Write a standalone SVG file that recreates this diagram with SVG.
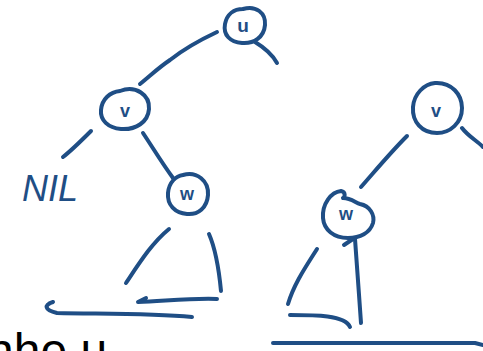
<svg xmlns="http://www.w3.org/2000/svg" width="483" height="351" viewBox="0 0 483 351">
<style>
.s{fill:none;stroke:#1f4e85;stroke-width:4;stroke-linecap:round;stroke-linejoin:round}
.l{fill:#1f4e85;font-family:"Liberation Sans",Arial,sans-serif;font-weight:bold;text-anchor:middle}
.big{fill:#000;font-family:"Liberation Sans",Arial,sans-serif;font-size:48px}
</style>
<rect width="483" height="351" fill="#fff"/>
<g id="node-u">
<path class="s" d="M243,9 C256,5 266,13 265,25 C264,37 254,44 242,43 C230,42 223,35 225,24 C227,14 234,9 243,9"/>
<text class="l" x="243" y="32" font-size="19">u</text>
</g>
<g id="node-v">
<path class="s" d="M120,91 C136,85 150,95 149,109 C148,122 136,130 121,129 C108,128 100,120 101,110 C102,99 110,92 120,91"/>
<text class="l" x="125" y="117" font-size="18">v</text>
</g>
<g id="node-nil">
<text x="22" y="201" font-family="'Liberation Sans',Arial,sans-serif" font-size="36" font-style="italic" fill="#1f4e85" textLength="56">NIL</text>
</g>
<g id="node-w1">
<path class="s" d="M183,175 C197,171 209,181 208,195 C207,208 198,215 187,214 C175,213 167,205 168,193 C169,182 176,176 183,175"/>
<text class="l" x="187" y="200" font-size="18">w</text>
</g>
<g id="node-v2">
<path class="s" d="M435,83 C452,82 462,95 462,108 C462,123 450,133 437,133 C422,133 412,122 413,107 C414,94 424,84 435,83"/>
<text class="l" x="436" y="117" font-size="18">v</text>
</g>
<g id="node-w2">
<path class="s" d="M343,198 C351,198 356,203 360,204 C370,206 375,215 373,223 C370,233 360,238 348,238 C334,238 324,230 323,218 C322,204 331,192 341,191 C346,192 345,197 343,198"/>
<text class="l" x="346" y="220" font-size="18">w</text>
</g>
<g id="connectors">
<path class="s" d="M217,32 C200,40 185,48 170,60 C158,68 150,76 140,84"/>
<path class="s" d="M255,42 C265,48 272,54 277,63"/>
<path class="s" d="M91,131 C82,140 72,150 63,157"/>
<path class="s" d="M143,133 C153,148 162,163 173,178"/>
<path class="s" d="M169,229 C152,243 140,262 126,283"/>
<path class="s" d="M209,234 C216,250 219,270 221,291"/>
<path class="s" d="M217,299 C192,298 165,301 138,302 L146,298"/>
<path class="s" d="M53,302 C44,305 44,310 57,313 C100,314 150,313 192,317"/>
<path class="s" d="M462,128 C468,136 476,140 483,147"/>
<path class="s" d="M407,136 C390,153 376,170 361,187"/>
<path class="s" d="M317,249 C305,268 294,284 288,304"/>
<path class="s" d="M355,239 C357,265 359,295 361,323"/>
<path class="s" d="M344,245 L353,239"/>
<path class="s" d="M290,315 C315,315 345,315 350,327"/>
<path class="s" d="M273,343 C340,343 420,343 475,343 L483,345"/>
</g>
<text class="big" x="-13" y="367">nhe u</text>
</svg>
